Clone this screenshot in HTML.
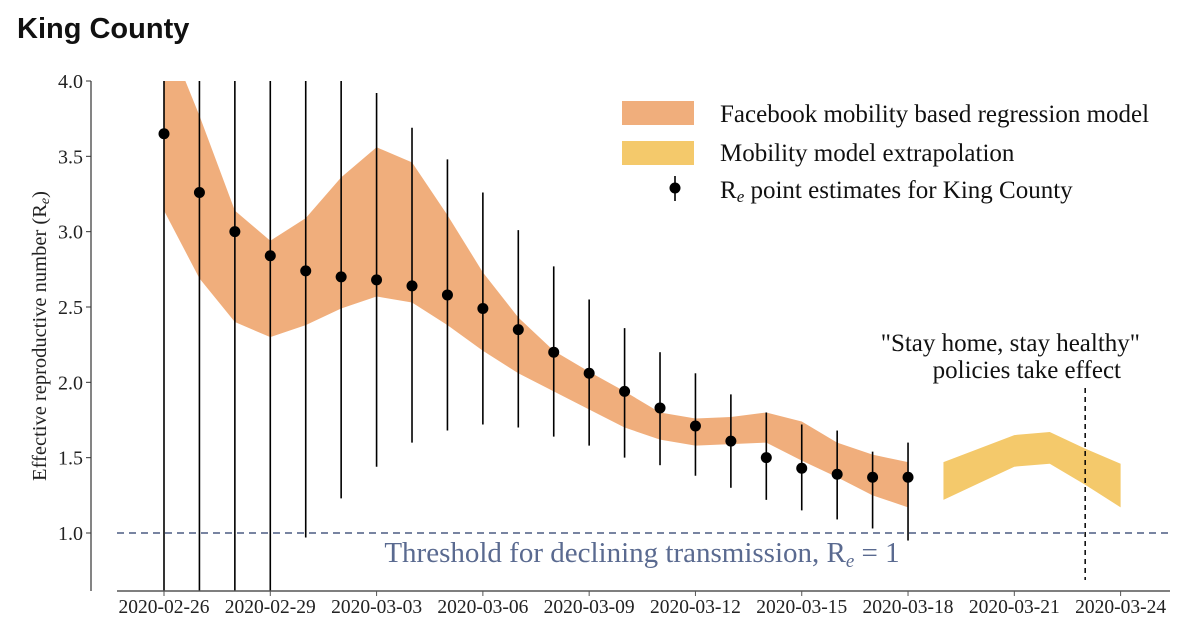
<!DOCTYPE html>
<html><head><meta charset="utf-8"><style>
html,body{margin:0;padding:0;background:#fff;width:1200px;height:636px;overflow:hidden}
svg{display:block}
text{font-family:"Liberation Serif",serif}
</style></head><body>
<svg id="chart" width="1200" height="636" viewBox="0 0 1200 636">
<text x="17" y="38" style="font-family:'Liberation Sans',sans-serif" font-weight="bold" font-size="29" fill="#111">King County</text>
</svg>
<script>
const days = ["02-26","02-27","02-28","02-29","03-01","03-02","03-03","03-04","03-05","03-06","03-07","03-08","03-09","03-10","03-11","03-12","03-13","03-14","03-15","03-16","03-17","03-18"];
const pointValues = [3.65,3.26,3.00,2.84,2.74,2.70,2.68,2.64,2.58,2.49,2.35,2.20,2.06,1.94,1.83,1.71,1.61,1.50,1.43,1.39,1.37,1.37];
const errUpper = [5,5,5,5,5,5,3.92,3.69,3.48,3.26,3.01,2.77,2.55,2.36,2.20,2.06,1.92,1.80,1.72,1.68,1.54,1.60];
const errLower = [0,0,0,0,0.97,1.23,1.44,1.60,1.68,1.72,1.70,1.64,1.58,1.50,1.45,1.38,1.30,1.22,1.15,1.09,1.03,0.95];
const bandUpper = [4.35,3.77,3.14,2.94,3.09,3.36,3.56,3.46,3.11,2.73,2.43,2.21,2.07,1.94,1.80,1.76,1.77,1.80,1.74,1.60,1.52,1.47];
const bandLower = [3.14,2.69,2.40,2.30,2.38,2.49,2.57,2.53,2.38,2.21,2.06,1.94,1.82,1.70,1.62,1.58,1.59,1.60,1.48,1.37,1.25,1.17];
const extDays = [22,23,24,25,26,27];
const extUpper = [1.47,1.56,1.65,1.67,1.56,1.46];
const extLower = [1.22,1.33,1.44,1.46,1.32,1.17];
const xTickDays = [0,3,6,9,12,15,18,21,24,27];
const xTickLabels = ["2020-02-26","2020-02-29","2020-03-03","2020-03-06","2020-03-09","2020-03-12","2020-03-15","2020-03-18","2020-03-21","2020-03-24"];
const yTicks = [1.0,1.5,2.0,2.5,3.0,3.5,4.0];
const policyDay = 26;

const NS="http://www.w3.org/2000/svg";
const svg=document.getElementById('chart');
const X=d=>164+d*35.43;
const Y=v=>533-(v-1)*150.67;
const TOP=81,BOT=591;
function el(tag,attrs,parent){const e=document.createElementNS(NS,tag);for(const k in attrs)e.setAttribute(k,attrs[k]);(parent||svg).appendChild(e);return e;}
const clipDef=el('defs',{});
const cp=el('clipPath',{id:'plotclip'},clipDef);
el('rect',{x:91,y:TOP,width:1090,height:BOT-TOP},cp);
const plot=el('g',{'clip-path':'url(#plotclip)'});

let pts=[];
for(let i=0;i<days.length;i++)pts.push(X(i)+','+Y(bandUpper[i]));
for(let i=days.length-1;i>=0;i--)pts.push(X(i)+','+Y(bandLower[i]));
const band=el('polygon',{points:pts.join(' '),fill:'#f0ae7c'},plot);


pts=[];
for(let i=0;i<extDays.length;i++)pts.push(X(extDays[i])+','+Y(extUpper[i]));
for(let i=extDays.length-1;i>=0;i--)pts.push(X(extDays[i])+','+Y(extLower[i]));
const ext=el('polygon',{points:pts.join(' '),fill:'#f4c96b'},plot);



const th=el('line',{x1:117,x2:1170,y1:Y(1),y2:Y(1),stroke:'#4b5b82','stroke-width':1.6,'stroke-dasharray':'7,5'});



for(let i=0;i<days.length;i++){
  const eb=el('line',{x1:X(i),x2:X(i),y1:Math.max(TOP,Y(errUpper[i])),y2:Math.min(BOT,Y(errLower[i])),stroke:'#000','stroke-width':1.6});
  
  
  const c=el('circle',{cx:X(i),cy:Y(pointValues[i]),r:5.5,fill:'#000'});
  
  
}

const pl=el('line',{x1:X(policyDay),x2:X(policyDay),y1:388,y2:580,stroke:'#000','stroke-width':1.5,'stroke-dasharray':'5,4'});


const a1=el('text',{x:1140,y:351,'text-anchor':'end','font-size':25,fill:'#111'});a1.textContent='"Stay home, stay healthy"';


const a2=el('text',{x:1121,y:378,'text-anchor':'end','font-size':25,fill:'#111'});a2.textContent='policies take effect';



const tl=el('text',{x:642,y:562,'text-anchor':'middle','font-size':29,fill:'#5a6a90'});
tl.innerHTML='Threshold for declining transmission, R<tspan font-style="italic" font-size="19" dy="5">e</tspan><tspan dy="-5"> = 1</tspan>';



const ya=el('line',{x1:91,x2:91,y1:TOP,y2:BOT,stroke:'#333','stroke-width':1.2});


const xa=el('line',{x1:117,x2:1170,y1:BOT,y2:BOT,stroke:'#555','stroke-width':1.5});


yTicks.forEach(v=>{
  el('line',{x1:86,x2:91,y1:Y(v),y2:Y(v),stroke:'#333'});
  const t=el('text',{x:83,y:Y(v)+7,'text-anchor':'end','font-size':20,fill:'#222'});
  t.textContent=v.toFixed(1);
  
  
});
xTickDays.forEach((d,i)=>{
  el('line',{x1:X(d),x2:X(d),y1:BOT,y2:BOT+5,stroke:'#555'});
  const t=el('text',{x:X(d),y:BOT+22,'text-anchor':'middle','font-size':19.5,fill:'#222'});
  t.textContent=xTickLabels[i];
  
  
});
const yt=el('text',{x:0,y:0,transform:'translate(46,336) rotate(-90)','text-anchor':'middle','font-size':20.5,fill:'#222'});
yt.innerHTML='Effective reproductive number (R<tspan font-style="italic" font-size="14" dy="3">e</tspan><tspan dy="-3">)</tspan>';



const lg=el('g',{});


el('rect',{x:622,y:101,width:72,height:24,fill:'#f0ae7c'},lg);
el('rect',{x:622,y:141,width:72,height:24,fill:'#f4c96b'},lg);
el('line',{x1:675,x2:675,y1:176,y2:201,stroke:'#000','stroke-width':1.6},lg);
el('circle',{cx:675,cy:188,r:5.5,fill:'#000'},lg);
const l1=el('text',{x:720,y:122,'font-size':25,fill:'#111'},lg);l1.textContent='Facebook mobility based regression model';


const l2=el('text',{x:720,y:161,'font-size':25,fill:'#111'},lg);l2.textContent='Mobility model extrapolation';


const l3=el('text',{x:720,y:198,'font-size':25,fill:'#111'},lg);
l3.innerHTML='R<tspan font-style="italic" font-size="17" dy="4">e</tspan><tspan dy="-4"> point estimates for King County</tspan>';


</script>
</body></html>
